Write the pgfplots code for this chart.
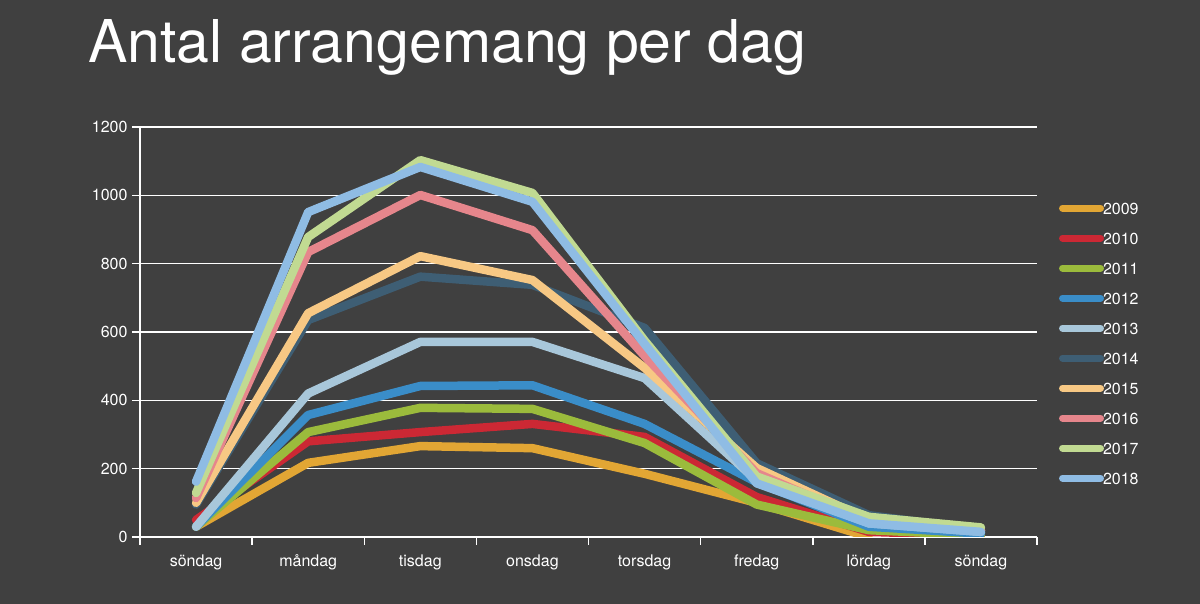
\documentclass[border=0pt]{standalone}
\usepackage{pgfplots}
\pgfplotsset{compat=1.18}
\usepackage{pgfplotstable}
\usepackage{fontspec}
\setmainfont{TeX Gyre Heros}
\definecolor{bg}{RGB}{64,64,64}
\definecolor{c2009}{RGB}{226,166,52}
\definecolor{c2010}{RGB}{204,40,52}
\definecolor{c2011}{RGB}{155,187,60}
\definecolor{c2012}{RGB}{58,141,200}
\definecolor{c2013}{RGB}{168,199,218}
\definecolor{c2014}{RGB}{62,94,116}
\definecolor{c2015}{RGB}{247,200,132}
\definecolor{c2016}{RGB}{230,134,140}
\definecolor{c2017}{RGB}{193,218,146}
\definecolor{c2018}{RGB}{143,188,228}
\pgfplotstableread{
day y2009 y2010 y2011 y2012 y2013 y2014 y2015 y2016 y2017 y2018
0 30 50 30 30 30 95 100 114 129 162
1 217 280 307 357 420 635 655 834 878 951
2 266 307 378 442 571 762 822 1001 1103 1083
3 260 331 375 444 571 738 752 898 1007 981
4 185 293 275 331 465 612 495 530 575 565
5 100 117 95 160 165 216 202 187 177 157
6 0 15 20 30 40 64 50 45 59 40
7 nan 5 5 10 15 20 20 20 28 15
}\data
\begin{document}
\begin{tikzpicture}
\useasboundingbox (0,0) rectangle (1200pt,604pt);
\fill[bg] (0,0) rectangle (1200pt,604pt);
\node[anchor=base west, inner sep=0pt, text=white, font=\fontsize{59}{70}\selectfont] at (88pt,541pt) {Antal arrangemang per dag};
\begin{axis}[
  at={(140pt,67pt)}, anchor=south west,
  scale only axis, width=897pt, height=410pt,
  xmin=-0.5, xmax=7.5, ymin=0, ymax=1200,
  axis x line*=bottom, axis y line*=left,
  axis line style={white, line width=1.5pt, -},
  xtick={0,...,7},
  xticklabels={söndag,måndag,tisdag,onsdag,torsdag,fredag,lördag,söndag},
  minor xtick={-0.5,0.5,...,7.5},
  ytick={0,200,...,1200},
  tick align=outside,
  major tick length=8pt, minor tick length=8pt,
  x tick style={draw=none},
  minor x tick style={draw=white, line width=1.5pt},
  y tick style={white, line width=1.5pt},
  ymajorgrids, grid style={white, line width=1.5pt},
  ticklabel style={text=white, font=\fontsize{16}{19}\selectfont},
  /pgf/number format/assume math mode=true,
  /pgf/number format/1000 sep={},
  xticklabel style={yshift=-6pt},
  yticklabel style={xshift=-1pt},
  every axis plot/.append style={line width=8.5pt, line cap=round, line join=round},
  legend style={draw=none, fill=none, at={(1.021,0.822)}, anchor=north west,
    text=white, font=\fontsize{16}{19}\selectfont,
    nodes={inner sep=0pt, text height=12pt, text depth=0pt, anchor=west},
    row sep=18pt},
  legend cell align=left,
  legend image code/.code={\draw[#1, line width=7pt, line cap=round] (0pt,0pt) -- (38pt,0pt);},
  /tikz/every even column/.append style={column sep=0pt},
  /tikz/every odd column/.append style={column sep=-1pt},
]
\addplot[c2009] table[x=day,y=y2009]{\data};
\addplot[c2010] table[x=day,y=y2010]{\data};
\addplot[c2011] table[x=day,y=y2011]{\data};
\addplot[c2012] table[x=day,y=y2012]{\data};
\addplot[c2013] table[x=day,y=y2013]{\data};
\addplot[c2014] table[x=day,y=y2014]{\data};
\addplot[c2015] table[x=day,y=y2015]{\data};
\addplot[c2016] table[x=day,y=y2016]{\data};
\addplot[c2017] table[x=day,y=y2017]{\data};
\addplot[c2018] table[x=day,y=y2018]{\data};
\legend{2009,2010,2011,2012,2013,2014,2015,2016,2017,2018}
\end{axis}
\end{tikzpicture}
\end{document}
